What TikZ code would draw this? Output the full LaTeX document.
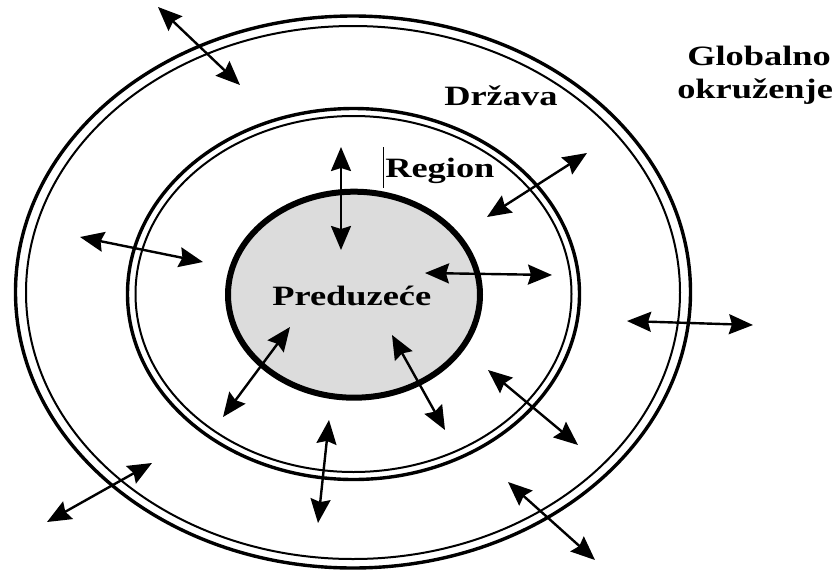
\documentclass[tikz,border=0pt]{standalone}
\usepackage{fontspec}
\setmainfont{Liberation Serif}
\usetikzlibrary{arrows.meta}
\tikzset{
  flowtip/.tip={Stealth[length=24pt,width=20pt,inset=3pt]},
  flow/.style={line width=2.4pt, arrows={flowtip-flowtip}}
}
\begin{document}
\begin{tikzpicture}[x=1pt,y=-1pt,
  ringouter/.style={line width=3.4pt},
  ringinner/.style={line width=2pt},
  lbl/.style={font=\fontsize{28}{31}\selectfont\bfseries, inner sep=0pt, anchor=base west, xscale=1.3}]
\useasboundingbox (0,0) rectangle (839,571);
% Globalno / Drzava ring
\draw[ringouter] (353,292) ellipse [x radius=337.5pt, y radius=276pt];
\draw[ringinner] (353,292.5) ellipse [x radius=327pt, y radius=266.5pt];
% Region ring
\draw[ringouter] (353.5,294) ellipse [x radius=226pt, y radius=185.5pt];
\draw[ringinner] (353.5,294) ellipse [x radius=218pt, y radius=178pt];
% Preduzece
\draw[line width=6pt, fill={rgb,255:red,220;green,220;blue,220}] (354,294.7) ellipse [x radius=126pt, y radius=103pt];
% arrow end points
\coordinate (a1) at (158,7);   \coordinate (b1) at (240,85);
\coordinate (a2) at (80,237);  \coordinate (b2) at (203,262);
\coordinate (a3) at (341,147); \coordinate (b3) at (341,250);
\coordinate (a4) at (587,153); \coordinate (b4) at (487,217);
\coordinate (a5) at (425,273); \coordinate (b5) at (552,275);
\coordinate (a6) at (627,321); \coordinate (b6) at (753,325);
\coordinate (a7) at (290,327); \coordinate (b7) at (223,417);
\coordinate (a8) at (392,335); \coordinate (b8) at (445,430);
\coordinate (a9) at (329,420); \coordinate (b9) at (318,523);
\coordinate (a10) at (152,463); \coordinate (b10) at (47,522);
\coordinate (a11) at (488,370); \coordinate (b11) at (578,445);
\coordinate (a12) at (508,482); \coordinate (b12) at (595,560);
\foreach \i in {1,...,12} {\draw[flow] (a\i) -- (b\i);}
% labels
\node[lbl] (pred) at (272,305) {Preduzeće};
\node[lbl] (reg) at (385,177) {Region};
\node[lbl] (drz) at (444,105) {Država};
\node[lbl] (glob) at (687,65) {Globalno};
\node[lbl] (okr) at (677,98) {okruženje};
% cursor mark before Region
\coordinate (c1) at (383,147); \coordinate (c2) at (383,188);
\draw[line width=0.8pt] (c1) -- (c2);
\end{tikzpicture}
\end{document}
